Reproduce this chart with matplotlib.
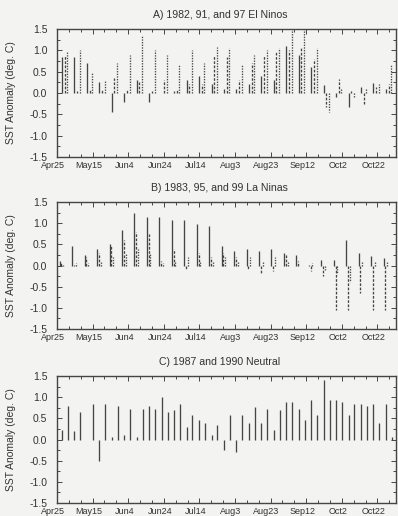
import numpy as np
import matplotlib
matplotlib.use("Agg")
import matplotlib.pyplot as plt
import matplotlib.transforms as mtransforms
from matplotlib.ticker import MultipleLocator

# days counted from Apr 25
tick_days = [0, 20, 40, 60, 80, 100, 120, 140, 160, 180]
tick_labels = ["Apr25", "May15", "Jun4", "Jun24", "Jul14",
               "Aug3", "Aug23", "Sep12", "Oct2", "Oct22"]

titles = ["A) 1982, 91, and 97 El Ninos",
          "B) 1983, 95, and 99 La Ninas",
          "C) 1987 and 1990 Neutral"]

# panel A: weekly anomalies, three years
a_first = [0.85, 0.85, 0.7, 0.25, -0.45, -0.2, 0.3, -0.22, 0.0, 0.05, 0.3, 0.4, 0.2, 0.1,
           0.1, 0.2, 0.4, 0.3, 1.1, 0.9, 0.6, 0.19, -0.1, -0.32, 0.15, 0.23, 0.1]
a_mid = [0.9, 0.05, 0.1, 0.1, 0.35, 0.1, 0.25, 0.05, 0.3, 0.1, 0.2, 0.2, 0.9, 0.85,
         0.3, 0.7, 0.9, 0.95, 1.0, 1.05, 0.8, -0.32, 0.34, 0.05, -0.25, 0.15, 0.2]
a_last = [0.95, 1.0, 0.5, 0.3, 0.7, 0.9, 1.35, 1.0, 0.9, 0.65, 1.0, 0.7, 1.08, 1.05,
          0.65, 0.9, 1.0, 1.05, 1.6, 1.6, 1.05, -0.44, 0.1, -0.1, 0.1, 0.2, 0.66]

# panel B
b_first = [0.1, 0.45, 0.26, 0.4, 0.5, 0.85, 1.25, 1.15, 1.15, 1.08, 1.08, 0.97, 0.93, 0.45,
           0.34, 0.38, 0.34, 0.38, 0.3, 0.26, 0.02, 0.14, 0.14, 0.6, 0.3, 0.22, 0.18, 0.45]
b_mid = [0.05, 0.02, 0.2, 0.3, 0.45, 0.6, 0.8, 0.75, 0.1, 0.4, -0.1, 0.3, 0.2, 0.3,
         0.2, -0.1, -0.2, -0.13, 0.25, 0.1, -0.13, -0.25, -1.04, -1.04, -0.65, -1.04, -1.04, -0.1]
b_last = [0.02, 0.05, 0.05, 0.1, 0.2, 0.3, 0.4, 0.3, 0.05, 0.1, 0.2, 0.1, 0.1, 0.2,
          0.1, 0.2, 0.1, 0.2, 0.1, 0.0, 0.05, -0.1, -0.2, -0.4, 0.1, 0.1, 0.1, 0.5]

# panel C
c_first = [0.22, 0.2, 0.0, -0.5, 0.05, 0.1, 0.05, 0.8, 1.0, 0.7, 0.3, 0.45, 0.1, -0.25,
           -0.3, 0.4, 0.4, 0.22, 0.89, 0.73, 0.93, 1.4, 0.93, 0.57, 0.85, 0.85, 0.85]
c_second = [0.8, 0.65, 0.85, 0.85, 0.8, 0.73, 0.73, 0.73, 0.65, 0.85, 0.57, 0.4, 0.34, 0.57,
            0.57, 0.77, 0.73, 0.7, 0.89, 0.45, 0.57, 0.93, 0.89, 0.85, 0.8, 0.4, 0.05]

INK = "#454545"
TXT = "#333333"
BG = "#f3f3f1"

plt.rcParams["font.family"] = ["Liberation Sans", "DejaVu Sans"]

fig = plt.figure(figsize=(3.98, 5.16), dpi=100, facecolor=BG)

boxes = [(0.1432, 0.6957, 0.852, 0.2481),
         (0.1432, 0.3624, 0.852, 0.2461),
         (0.1432, 0.0252, 0.852, 0.2461)]

panels = [
    (2.8, [0.0, 1.5, 3.0], [a_first, a_mid, a_last]),
    (1.5, [0.0, 1.0, 2.0], [b_first, b_mid, b_last]),
    (2.8, [0.0, 3.3], [c_first, c_second]),
]
styles = ["solid", (0, (2, 1.2)), (0, (1, 1))]

# x tick labels sit a little left of their ticks in the original
shift = mtransforms.ScaledTranslation(-4 / 100, 0, fig.dpi_scale_trans)

for i, (start, offsets, series) in enumerate(panels):
    ax = fig.add_axes(boxes[i], facecolor=BG)
    for j, vals in enumerate(series):
        days = start + 7 * np.arange(len(vals)) + offsets[j]
        ls = "solid" if i == 2 else styles[j]
        ax.vlines(days, 0, vals, colors=INK, linewidth=0.95, linestyles=ls)

    ax.set_xlim(0, 190.5)
    ax.set_ylim(-1.5, 1.5)
    ax.set_xticks(tick_days)
    ax.set_xticklabels(tick_labels)
    ax.xaxis.set_minor_locator(MultipleLocator(20 / 3))
    ax.set_yticks(np.arange(-1.5, 1.51, 0.5))
    ax.set_yticklabels(["%.1f" % v for v in np.arange(-1.5, 1.51, 0.5)])
    ax.yaxis.set_minor_locator(MultipleLocator(0.25))
    ax.tick_params(which="both", direction="in", top=True, right=True,
                   colors=INK, labelcolor=TXT, width=0.7)
    ax.tick_params(which="major", length=3.5)
    ax.tick_params(which="minor", length=2)
    ax.tick_params(axis="x", labelsize=6.5, pad=3)
    ax.tick_params(axis="y", labelsize=7.5, pad=7)
    for lab in ax.get_xticklabels():
        lab.set_transform(lab.get_transform() + shift)
    for s in ax.spines.values():
        s.set_color(INK)
        s.set_linewidth(1.0)
    ax.set_ylabel("SST Anomaly (deg. C)", fontsize=7.5, color=TXT)
    ax.yaxis.set_label_coords(-0.12, 0.5)
    ax.set_title(titles[i], fontsize=7.6, color=TXT, pad=8, x=0.48)

fig.savefig("out.png", dpi=100, facecolor=BG)
